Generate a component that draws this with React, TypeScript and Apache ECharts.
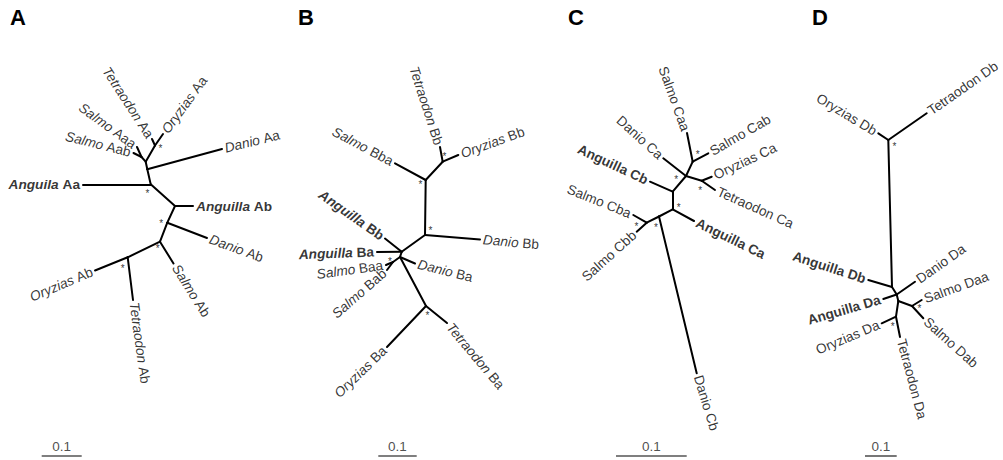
import React, { useEffect, useRef } from 'react';
import * as echarts from 'echarts';

type P = [string, number, number];
type E = [string, string];
type Leaf = [string, string, string, number, 'l' | 'r'];

// ---------- Panel A ----------
const nodesA: P[] = [
  ['a1', 150.7, 184.3], ['a2', 147.3, 169.3], ['a3', 145.7, 161.7], ['a4', 155, 145.5], ['aS', 141.5, 157],
  ['a5', 175, 206], ['a6', 167.3, 222.7], ['a7', 160, 241.7], ['a8', 127.7, 257.3],
  ['AngAa', 83, 184.3], ['DanAa', 222, 149], ['OryAa', 163, 134], ['TetAa', 152, 139], ['SalAaa', 137, 147], ['SalAab', 133.5, 153],
  ['AngAb', 193, 206], ['DanAb', 207, 238], ['SalAb', 173.5, 263.5], ['OryAb', 95, 270.5], ['TetAb', 133, 300],
];
const edgesA: E[] = [
  ['a1', 'AngAa'], ['a1', 'a2'], ['a2', 'DanAa'], ['a2', 'a3'], ['a3', 'aS'], ['aS', 'SalAaa'], ['aS', 'SalAab'],
  ['a3', 'a4'], ['a4', 'OryAa'], ['a4', 'TetAa'], ['a1', 'a5'], ['a5', 'AngAb'], ['a5', 'a6'], ['a6', 'DanAb'],
  ['a6', 'a7'], ['a7', 'SalAb'], ['a7', 'a8'], ['a8', 'OryAb'], ['a8', 'TetAb'],
];
const leavesA: Leaf[] = [
  ['AngAa', 'Anguila', 'Aa', 0, 'l'], ['DanAa', 'Danio', 'Aa', -14, 'r'], ['OryAa', 'Oryzias', 'Aa', -54, 'r'],
  ['TetAa', 'Tetraodon', 'Aa', 57, 'l'], ['SalAaa', 'Salmo', 'Aaa', 36, 'l'], ['SalAab', 'Salmo', 'Aab', 14, 'l'],
  ['AngAb', 'Anguilla', 'Ab', 0, 'r'], ['DanAb', 'Danio', 'Ab', 20, 'r'], ['SalAb', 'Salmo', 'Ab', 58, 'r'],
  ['OryAb', 'Oryzias', 'Ab', -23, 'l'], ['TetAb', 'Tetraodon', 'Ab', 82, 'r'],
];
const starsA: [number, number][] = [[148, 192], [161, 146.5], [161.7, 221.7], [158.3, 246.7], [123.3, 266.7]];

// ---------- Panel B ----------
const nodesB: P[] = [
  ['b1', 442.7, 161.7], ['b2', 425.7, 180], ['b3', 425, 235], ['b4', 401.7, 251.7], ['b4p', 400, 257], ['bS', 393, 262], ['b5', 426, 306],
  ['TetBb', 440, 147], ['OryBb', 458.3, 155], ['SalBba', 395, 163.3], ['DanBb', 480, 239.5], ['AngBb', 385, 238.5],
  ['AngBa', 377, 252], ['SalBaa', 386, 265], ['SalBab', 387, 270], ['DanBa', 415, 263.5], ['OryBa', 387, 347], ['TetBa', 447, 323],
];
const edgesB: E[] = [
  ['b1', 'TetBb'], ['b1', 'OryBb'], ['b1', 'b2'], ['b2', 'SalBba'], ['b2', 'b3'], ['b3', 'DanBb'], ['b3', 'b4'],
  ['b4', 'AngBb'], ['b4', 'AngBa'], ['b4', 'b4p'], ['b4p', 'DanBa'], ['b4p', 'bS'], ['bS', 'SalBaa'], ['bS', 'SalBab'],
  ['b4p', 'b5'], ['b5', 'OryBa'], ['b5', 'TetBa'],
];
const leavesB: Leaf[] = [
  ['TetBb', 'Tetraodon', 'Bb', 72, 'l'], ['OryBb', 'Oryzias', 'Bb', -20, 'r'], ['SalBba', 'Salmo', 'Bba', 28, 'l'],
  ['DanBb', 'Danio', 'Bb', 5, 'r'], ['AngBb', 'Anguilla', 'Bb', 35, 'l'], ['AngBa', 'Anguilla', 'Ba', -2, 'l'],
  ['SalBaa', 'Salmo', 'Baa', -8, 'l'], ['SalBab', 'Salmo', 'Bab', -41, 'l'], ['DanBa', 'Danio', 'Ba', 14, 'r'],
  ['OryBa', 'Oryzias', 'Ba', -44, 'l'], ['TetBa', 'Tetraodon', 'Ba', 50, 'r'],
];
const starsB: [number, number][] = [[445, 155], [421, 183], [431, 229], [390.5, 260], [428, 314]];

// ---------- Panel C ----------
const nodesC: P[] = [
  ['c1', 692.7, 161.7], ['c2', 686, 176], ['c3', 701.7, 180.7], ['c4', 672.7, 191.7], ['c5', 672.7, 209.3], ['c6', 659, 216.5], ['c7', 646.7, 222.7],
  ['SalCaa', 687, 133], ['SalCab', 708.3, 153.3], ['OryCa', 711.7, 176.7], ['TetCa', 715, 190], ['DanCa', 663.3, 158.3],
  ['AngCb', 650, 181.7], ['AngCa', 694, 221], ['DanCb', 696.7, 373.3], ['SalCba', 633.3, 215], ['SalCbb', 636.7, 231.7],
];
const edgesC: E[] = [
  ['c1', 'SalCaa'], ['c1', 'SalCab'], ['c1', 'c2'], ['c2', 'DanCa'], ['c2', 'c3'], ['c3', 'OryCa'], ['c3', 'TetCa'],
  ['c2', 'c4'], ['c4', 'AngCb'], ['c4', 'c5'], ['c5', 'AngCa'], ['c5', 'c6'], ['c6', 'DanCb'], ['c6', 'c7'],
  ['c7', 'SalCba'], ['c7', 'SalCbb'],
];
const leavesC: Leaf[] = [
  ['SalCaa', 'Salmo', 'Caa', 70, 'l'], ['SalCab', 'Salmo', 'Cab', -30, 'r'], ['OryCa', 'Oryzias', 'Ca', -25, 'r'],
  ['TetCa', 'Tetraodon', 'Ca', 24, 'r'], ['DanCa', 'Danio', 'Ca', 42, 'l'], ['AngCb', 'Anguilla', 'Cb', 25, 'l'],
  ['AngCa', 'Anguilla', 'Ca', 26, 'r'], ['SalCba', 'Salmo', 'Cba', 22, 'l'], ['SalCbb', 'Salmo', 'Cbb', -42, 'l'],
  ['DanCb', 'Danio', 'Cb', 73, 'r'],
];
const starsC: [number, number][] = [[698.3, 153.3], [676.7, 178.3], [700.7, 189.3], [679.3, 206], [637, 224.5], [656.5, 225.5]];

// ---------- Panel D ----------
const nodesD: P[] = [
  ['d1', 888.3, 140], ['d2', 892, 287], ['d3', 896.7, 294.5], ['d4', 898.3, 301], ['dS', 912, 306], ['dT', 896, 316.7],
  ['OryDb', 878.3, 133.3], ['TetDb', 926.7, 113.3], ['AngDb', 868.3, 280], ['DanDa', 915, 281.7], ['AngDa', 883.3, 299],
  ['SalDaa', 921.7, 300], ['SalDab', 923.3, 318.3], ['OryDa', 881.7, 323.3], ['TetDa', 900, 337],
];
const edgesD: E[] = [
  ['d1', 'OryDb'], ['d1', 'TetDb'], ['d1', 'd2'], ['d2', 'AngDb'], ['d2', 'd3'], ['d3', 'DanDa'], ['d3', 'AngDa'],
  ['d3', 'd4'], ['d4', 'dS'], ['dS', 'SalDaa'], ['dS', 'SalDab'], ['d4', 'dT'], ['dT', 'OryDa'], ['dT', 'TetDa'],
];
const leavesD: Leaf[] = [
  ['OryDb', 'Oryzias', 'Db', 31, 'l'], ['TetDb', 'Tetraodon', 'Db', -35, 'r'], ['AngDb', 'Anguilla', 'Db', 18, 'l'],
  ['DanDa', 'Danio', 'Da', -35, 'r'], ['SalDaa', 'Salmo', 'Daa', -20, 'r'], ['SalDab', 'Salmo', 'Dab', 42, 'r'],
  ['AngDa', 'Anguilla', 'Da', -16, 'l'], ['OryDa', 'Oryzias', 'Da', -23, 'l'], ['TetDa', 'Tetraodon', 'Da', 75, 'r'],
];
const starsD: [number, number][] = [[895, 145], [920, 307.3], [893.3, 325]];

// ---------- Scale bars & panel letters ----------
const scaleStart = [41.7, 378.3, 616, 865];
const scaleEnd = [81.7, 416.7, 686.7, 896.7];
const scaleY = 456;
const scaleText = '0.1';
const panelLetters = ['A', 'B', 'C', 'D'];
const italicGenus = [true, true, false, false];

const FONT = "'Liberation Sans', Arial, Helvetica, sans-serif";
const FS = 13.7;
const GAP = 2.5;

function buildOption() {
  const panels = [
    { nodes: nodesA, edges: edgesA, leaves: leavesA, stars: starsA },
    { nodes: nodesB, edges: edgesB, leaves: leavesB, stars: starsB },
    { nodes: nodesC, edges: edgesC, leaves: leavesC, stars: starsC },
    { nodes: nodesD, edges: edgesD, leaves: leavesD, stars: starsD },
  ];
  const base = { fontSize: FS, fontFamily: FONT, color: '#000', textBorderWidth: 0 };
  const rich: any = {
    gi: { ...base, fontStyle: 'italic' },
    gn: { ...base },
    gbi: { ...base, fontStyle: 'italic', fontWeight: 'bold' },
    gbn: { ...base, fontWeight: 'bold' },
    s: { ...base },
    sb: { ...base, fontWeight: 'bold' },
  };
  const series: any[] = [];
  panels.forEach((p, i) => {
    const pos: Record<string, [number, number]> = {};
    p.nodes.forEach(([id, x, y]) => { pos[id] = [x, y]; });
    series.push({
      type: 'lines', coordinateSystem: 'cartesian2d', silent: true, z: 2,
      lineStyle: { color: '#000', width: 2, opacity: 1, cap: 'round', curveness: 0 },
      data: p.edges.map(([a, b]) => ({ coords: [pos[a], pos[b]] })),
    });
    series.push({
      type: 'scatter', silent: true, symbolSize: 1, itemStyle: { color: 'rgba(0,0,0,0)' }, z: 3,
      data: p.leaves.map(([id, genus, suf, ang, side]) => {
        const [x, y] = pos[id];
        const r = (ang * Math.PI) / 180;
        const sg = side === 'r' ? 1 : -1;
        const bold = genus.indexOf('Angui') === 0;
        const it = italicGenus[i];
        const gk = bold ? (it ? 'gbi' : 'gbn') : it ? 'gi' : 'gn';
        return {
          value: [x + sg * GAP * Math.cos(r), y + sg * GAP * Math.sin(r)],
          label: {
            show: true, position: side === 'r' ? 'right' : 'left', distance: 0, rotate: -ang,
            formatter: `{${gk}|${genus}} {${bold ? 'sb' : 's'}|${suf}}`, rich,
            fontSize: FS, fontFamily: FONT, color: '#000', textBorderWidth: 0,
          },
        };
      }),
    });
    series.push({
      type: 'scatter', silent: true, symbolSize: 1, itemStyle: { color: 'rgba(0,0,0,0)' }, z: 3,
      data: p.stars.map((s) => s),
      label: {
        show: true, position: [0, 2], align: 'center', verticalAlign: 'middle', formatter: '*',
        fontSize: 10, fontFamily: FONT, color: '#000', textBorderWidth: 0, textBorderColor: 'transparent',
      },
    });
  });
  series.push({
    type: 'lines', coordinateSystem: 'cartesian2d', silent: true,
    lineStyle: { color: '#555', width: 1.6, opacity: 1, curveness: 0 },
    data: scaleStart.map((s, k) => ({ coords: [[s, scaleY], [scaleEnd[k], scaleY]] })),
  });
  series.push({
    type: 'scatter', silent: true, symbolSize: 1, itemStyle: { color: 'rgba(0,0,0,0)' },
    data: scaleStart.map((s, k) => [(s + scaleEnd[k]) / 2, scaleY]),
    label: { show: true, position: 'top', distance: 2, formatter: scaleText, fontSize: 13.5, fontFamily: FONT, color: '#222', textBorderWidth: 0 },
  });
  const letterLeft = [10, 298, 568, 812];
  return {
    animation: false,
    backgroundColor: '#fff',
    grid: { left: 0, right: 0, top: 0, bottom: 0 },
    xAxis: { type: 'value', min: 0, max: 1003, show: false },
    yAxis: { type: 'value', min: 0, max: 460, inverse: true, show: false },
    graphic: panelLetters.map((t, k) => ({
      type: 'text', left: letterLeft[k], top: 6,
      style: { text: t, font: `bold 22px ${FONT}`, fill: '#000' },
    })),
    series,
  };
}

export default function App() {
  const ref = useRef<HTMLDivElement>(null);
  useEffect(() => {
    document.body.style.margin = '0';
    const chart = echarts.init(ref.current as HTMLDivElement, null, { renderer: 'svg' });
    chart.setOption(buildOption() as any);
    return () => chart.dispose();
  }, []);
  return <div ref={ref} style={{ width: 1003, height: 460 }} />;
}
